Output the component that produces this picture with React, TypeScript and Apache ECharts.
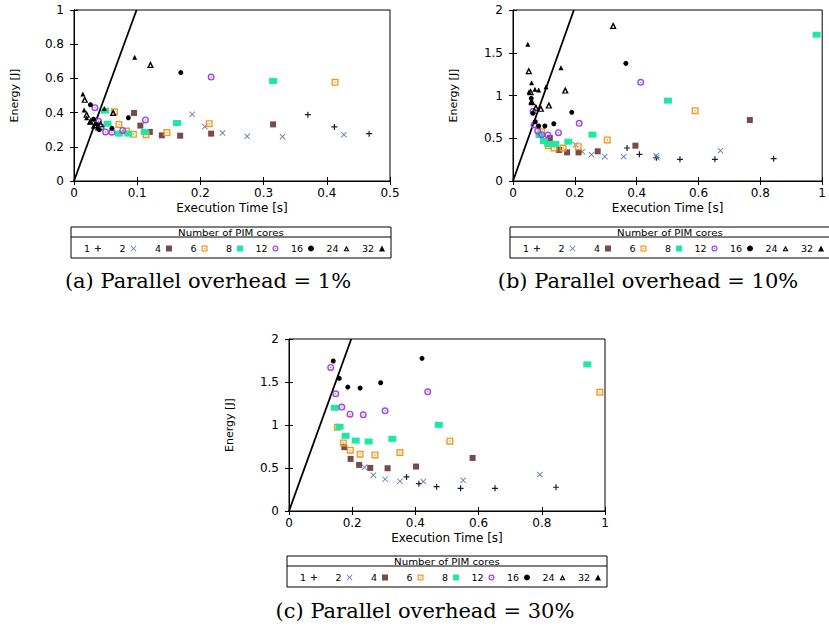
import React, { useEffect, useRef } from 'react';
import * as echarts from 'echarts';

// Number of PIM cores (series names)
const CORES = ['1', '2', '4', '6', '8', '12', '16', '24', '32'];

// (a) Parallel overhead = 1%  — [execution time s, energy J]
const A1 = [[0.467, 0.277], [0.412, 0.316], [0.370, 0.388]];
const A2 = [[0.427, 0.271], [0.330, 0.259], [0.274, 0.261], [0.235, 0.281], [0.207, 0.318], [0.187, 0.390]];
const A4 = [[0.315, 0.331], [0.217, 0.277], [0.168, 0.265], [0.139, 0.267], [0.120, 0.287], [0.105, 0.324], [0.095, 0.398]];
const A6 = [[0.413, 0.577], [0.214, 0.335], [0.147, 0.283], [0.114, 0.271], [0.094, 0.273], [0.083, 0.292], [0.071, 0.331], [0.064, 0.405]];
const A8 = [[0.315, 0.585], [0.163, 0.339], [0.112, 0.287], [0.086, 0.277], [0.071, 0.277], [0.053, 0.335], [0.049, 0.411]];
const A12 = [[0.217, 0.608], [0.113, 0.357], [0.077, 0.296], [0.060, 0.285], [0.050, 0.287], [0.043, 0.316], [0.039, 0.349], [0.033, 0.429]];
const A16 = [[0.169, 0.634], [0.086, 0.370], [0.060, 0.308], [0.040, 0.300], [0.037, 0.330], [0.031, 0.361], [0.026, 0.446]];
const A24 = [[0.121, 0.682], [0.062, 0.400], [0.017, 0.478], [0.020, 0.390], [0.026, 0.350], [0.033, 0.330], [0.042, 0.335]];
const A32 = [[0.096, 0.723], [0.048, 0.424], [0.014, 0.509], [0.016, 0.415], [0.020, 0.370], [0.025, 0.345], [0.031, 0.320], [0.037, 0.310]];
const LINE_A = [[0, 0], [0.099, 1]];

// (b) Parallel overhead = 10%
const B1 = [[0.843, 0.261], [0.653, 0.253], [0.540, 0.253], [0.464, 0.273], [0.409, 0.312], [0.369, 0.386]];
const B2 = [[0.671, 0.355], [0.463, 0.296], [0.465, 0.275], [0.358, 0.285], [0.297, 0.285], [0.254, 0.308], [0.224, 0.343], [0.202, 0.425]];
const B4 = [[0.766, 0.713], [0.396, 0.413], [0.274, 0.347], [0.212, 0.335], [0.175, 0.335], [0.149, 0.363], [0.119, 0.503]];
const B6 = [[0.589, 0.823], [0.305, 0.480], [0.211, 0.402], [0.162, 0.386], [0.133, 0.386], [0.114, 0.413], [0.093, 0.575]];
const B8 = [[0.982, 1.711], [0.501, 0.940], [0.257, 0.542], [0.179, 0.460], [0.137, 0.433], [0.114, 0.433], [0.100, 0.468], [0.086, 0.538]];
const B12 = [[0.413, 1.154], [0.214, 0.674], [0.147, 0.565], [0.113, 0.538], [0.093, 0.542], [0.080, 0.585], [0.068, 0.655], [0.065, 0.815]];
const B16 = [[0.365, 1.376], [0.190, 0.803], [0.132, 0.670], [0.103, 0.643], [0.083, 0.643], [0.072, 0.694], [0.064, 0.792], [0.059, 0.967]];
const B24 = [[0.324, 1.820], [0.169, 1.064], [0.116, 0.889], [0.090, 0.850], [0.074, 0.862], [0.061, 0.928], [0.057, 1.045], [0.051, 1.290]];
const B32 = [[0.048, 1.599], [0.155, 1.325], [0.107, 1.103], [0.083, 1.064], [0.071, 1.072], [0.060, 1.150], [0.052, 1.045], [0.058, 0.930]];
const LINE_B = [[0, 0], [0.197, 2]];

// (c) Parallel overhead = 30%
const C1 = [[0.845, 0.276], [0.652, 0.264], [0.543, 0.264], [0.467, 0.283], [0.411, 0.318], [0.372, 0.396]];
const C2 = [[0.794, 0.423], [0.551, 0.357], [0.425, 0.342], [0.351, 0.346], [0.304, 0.369], [0.267, 0.416], [0.239, 0.509]];
const C4 = [[0.581, 0.617], [0.402, 0.517], [0.312, 0.497], [0.257, 0.501], [0.222, 0.536], [0.195, 0.606], [0.175, 0.742]];
const C6 = [[0.984, 1.382], [0.509, 0.812], [0.351, 0.680], [0.272, 0.652], [0.225, 0.660], [0.194, 0.707], [0.172, 0.792], [0.153, 0.975]];
const C8 = [[0.944, 1.705], [0.474, 1.002], [0.327, 0.839], [0.252, 0.808], [0.211, 0.819], [0.179, 0.874], [0.160, 0.979], [0.145, 1.200]];
const C12 = [[0.439, 1.386], [0.304, 1.165], [0.235, 1.118], [0.193, 1.126], [0.167, 1.208], [0.148, 1.363], [0.132, 1.670]];
const C16 = [[0.421, 1.775], [0.290, 1.491], [0.225, 1.429], [0.186, 1.441], [0.159, 1.542], [0.140, 1.744]];
const C24: number[][] = [];
const C32: number[][] = [];
const LINE_C = [[0, 0], [0.197, 2]];

const PLOTS = [
  [A1, A2, A4, A6, A8, A12, A16, A24, A32],
  [B1, B2, B4, B6, B8, B12, B16, B24, B32],
  [C1, C2, C4, C6, C8, C12, C16, C24, C32],
];
const LINES = [LINE_A, LINE_B, LINE_C];
const X_MAX = [0.5, 1, 1];
const X_INT = [0.1, 0.2, 0.2];
const Y_MAX = [1, 2, 2];
const Y_INT = [0.2, 0.5, 0.5];
const CAPTIONS = ['(a) Parallel overhead = 1%', '(b) Parallel overhead = 10%', '(c) Parallel overhead = 30%'];
const LEGEND_TITLE = 'Number of PIM cores';
const X_NAME = 'Execution Time [s]';
const Y_NAME = 'Energy [J]';

const COLORS = ['#1c1c38', '#5a78b4', '#7a4a4a', '#f39a1e', '#1ee8a4', '#9a48e8', '#000000', '#000000', '#000000'];
const SYMBOLS = [
  'path://M4,0H6V4H10V6H6V10H4V6H0V4H4Z',
  'path://M0,1L1,0L5,4L9,0L10,1L6,5L10,9L9,10L5,6L1,10L0,9L4,5Z',
  'rect',
  'path://M0,0H10V10H0Z M2,2V8H8V2Z M4,4H6V6H4Z',
  'rect',
  'path://M5,0A5,5 0 1,1 5,10A5,5 0 1,1 5,0Z M5,2A3,3 0 1,0 5,8A3,3 0 1,0 5,2Z M5,4A1,1 0 1,1 5,6A1,1 0 1,1 5,4Z',
  'circle',
  'path://M5,0L10,9L0,9Z M5,4.2L3,7.6L7,7.6Z',
  'triangle',
];
const SIZES: any[] = [[6, 6], [6, 6], [6, 6], [7, 7], [8, 6], [7, 7], [5, 5], [7, 7], [5, 5]];

const GRIDS = [
  { left: 74, top: 10, width: 316, height: 171 },
  { left: 513, top: 10, width: 318, height: 171 },
  { left: 289, top: 339, width: 316, height: 172 },
];
const LEGEND_BOX = [
  { x: 71, y: 227 },
  { x: 510, y: 227 },
  { x: 287, y: 556 },
];
const CAPTION_POS = [
  { x: 208, y: 281 },
  { x: 648, y: 281 },
  { x: 425, y: 611 },
];

const SANS = '"DejaVu Sans", Arial, sans-serif';
const CHART_W = 829;

export default function App() {
  const ref = useRef<HTMLDivElement>(null);
  useEffect(() => {
    if (!ref.current) return;
    const chart = echarts.init(ref.current, undefined, { renderer: 'svg' });

    const xAxis: any[] = [];
    const yAxis: any[] = [];
    for (let i = 0; i < 3; i++) {
      xAxis.push({
        type: 'value', gridIndex: i, min: 0, max: X_MAX[i], interval: X_INT[i], position: 'bottom',
        axisLine: { show: true, lineStyle: { color: '#000', width: 1 } },
        axisTick: { show: true, inside: true, length: 4, lineStyle: { color: '#000' } },
        splitLine: { show: false },
        axisLabel: { color: '#000', fontSize: 12, fontFamily: SANS, margin: 6, showMaxLabel: true },
        name: X_NAME, nameLocation: 'middle', nameGap: 21,
        nameTextStyle: { color: '#000', fontSize: 12, fontFamily: SANS },
      });
      yAxis.push({
        type: 'value', gridIndex: i, min: 0, max: Y_MAX[i], interval: Y_INT[i], position: 'left',
        axisLine: { show: true, lineStyle: { color: '#000', width: 1 } },
        axisTick: { show: true, inside: true, length: 4, lineStyle: { color: '#000' } },
        splitLine: { show: false },
        axisLabel: { color: '#000', fontSize: 12, fontFamily: SANS, margin: 10 },
        name: Y_NAME, nameLocation: 'middle', nameGap: 54, nameRotate: 90,
        nameTextStyle: { color: '#000', fontSize: 11, fontFamily: SANS },
      });
    }
    for (let i = 0; i < 3; i++) {
      xAxis.push({
        type: 'value', gridIndex: i, min: 0, max: X_MAX[i], interval: X_INT[i], position: 'top',
        axisLine: { show: true, lineStyle: { color: '#000', width: 1 } },
        axisTick: { show: true, inside: true, length: 4, lineStyle: { color: '#000' } },
        splitLine: { show: false }, axisLabel: { show: false },
      });
      yAxis.push({
        type: 'value', gridIndex: i, min: 0, max: Y_MAX[i], interval: Y_INT[i], position: 'right',
        axisLine: { show: true, lineStyle: { color: '#000', width: 1 } },
        axisTick: { show: true, inside: true, length: 4, lineStyle: { color: '#000' } },
        splitLine: { show: false }, axisLabel: { show: false },
      });
    }

    const series: any[] = [];
    for (let i = 0; i < 3; i++) {
      series.push({
        type: 'line', xAxisIndex: i, yAxisIndex: i, data: LINES[i], symbol: 'none', silent: true,
        lineStyle: { color: '#000', width: 1.8 }, z: 1,
      });
      CORES.forEach((name, k) => {
        series.push({
          type: 'scatter', name, xAxisIndex: i, yAxisIndex: i, data: PLOTS[i][k],
          symbol: SYMBOLS[k], symbolSize: SIZES[k],
          itemStyle: { color: COLORS[k], opacity: 1 }, z: 2,
        });
      });
    }

    // one legend entry per column, at a fixed pitch (gnuplot-style key)
    const legend: any[] = [];
    LEGEND_BOX.forEach((b) => {
      CORES.forEach((name, k) => {
        const iconRight = b.x + 30 + k * 35.5;
        legend.push({
          show: true, orient: 'horizontal', right: CHART_W - iconRight, top: b.y + 16.5, padding: 0,
          align: 'right', itemWidth: 6, itemHeight: 6,
          data: [name], selectedMode: false,
          textStyle: { color: '#000', fontSize: 9.5, fontFamily: SANS },
        });
      });
    });

    const graphic: any[] = [];
    LEGEND_BOX.forEach((b) => {
      graphic.push({
        type: 'rect', shape: { x: b.x, y: b.y, width: 320, height: 31 },
        style: { fill: 'none', stroke: '#000', lineWidth: 1 }, silent: true,
      });
      graphic.push({
        type: 'line', shape: { x1: b.x, y1: b.y + 10, x2: b.x + 320, y2: b.y + 10 },
        style: { stroke: '#000', lineWidth: 1 }, silent: true,
      });
      graphic.push({
        type: 'text', x: b.x + 160, y: b.y + 5.5, scaleX: 1.2,
        style: { text: LEGEND_TITLE, fontSize: 8.5, fontFamily: SANS, fill: '#000', textAlign: 'center', textVerticalAlign: 'middle' },
        silent: true,
      });
    });
    CAPTION_POS.forEach((p, i) => {
      graphic.push({
        type: 'text', x: p.x, y: p.y,
        style: { text: CAPTIONS[i], fontSize: 21, fontFamily: '"DejaVu Serif", "Liberation Serif", serif', fill: '#000', textAlign: 'center', textVerticalAlign: 'middle' },
        silent: true,
      });
    });

    chart.setOption({
      animation: false,
      backgroundColor: '#fff',
      grid: GRIDS.map((g) => ({ ...g, show: true, borderColor: '#000', borderWidth: 1, backgroundColor: 'transparent' })),
      xAxis, yAxis, series, legend, graphic,
    });
    return () => chart.dispose();
  }, []);
  return <div ref={ref} style={{ position: 'absolute', left: 0, top: 0, width: 829, height: 628 }} />;
}
